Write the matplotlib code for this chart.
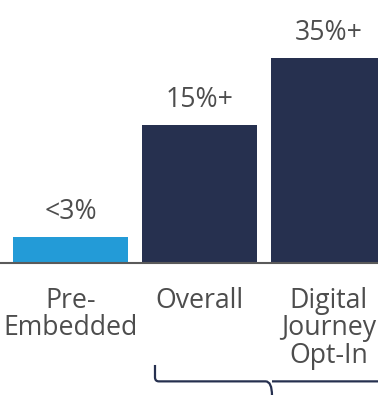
import matplotlib
matplotlib.use('Agg')
import matplotlib.pyplot as plt
from matplotlib.path import Path
from matplotlib.patches import PathPatch

# data
categories = ['Pre-\nEmbedded', 'Overall', 'Digital\nJourney\nOpt-In']
heights = [2.5, 13.5, 20.0]
value_labels = ['<3%', '15%+', '35%+']
colors = ['#239bd7', '#26304f', '#26304f']

plt.rcParams['font.family'] = ['Open Sans', 'DejaVu Sans']
text_color = '#4d4d4d'

fig = plt.figure(figsize=(3.78, 3.95), dpi=100)
ax = fig.add_axes([0, 0, 1, 1])

x = list(range(len(categories)))
ax.bar(x, heights, width=0.891, color=colors, zorder=2)
ax.axhline(0, color='#5a5a5a', lw=1.5, zorder=3)

for xi, h, lab in zip(x, heights, value_labels):
    ax.annotate(lab, (xi, h), xytext=(0, 8), textcoords='offset points',
                ha='center', va='bottom', fontsize=19.2, color=text_color)

for xi, cat in zip(x, categories):
    ax.annotate(cat, (xi, 0), xytext=(0, -17), textcoords='offset points',
                ha='center', va='top', fontsize=19.2, color=text_color,
                linespacing=0.99)

# bracket under the two right bars
xl, xc, xr = 0.655, 1.562, 2.469
yt, yh, yb = -9.95, -11.55, -12.95
r = 0.03
verts = [(xl, yt), (xl, yh + 0.4), (xl, yh), (xl + r, yh),
         (xc - 0.05, yh), (xc, yh), (xc, yb), (xc, yh), (xc + 0.05, yh),
         (xr - r, yh), (xr, yh), (xr, yh + 0.4), (xr, yt)]
codes = [Path.MOVETO, Path.LINETO, Path.CURVE3, Path.CURVE3,
         Path.LINETO, Path.CURVE3, Path.CURVE3, Path.MOVETO, Path.CURVE3,
         Path.LINETO, Path.CURVE3, Path.CURVE3, Path.LINETO]
ax.add_patch(PathPatch(Path(verts, codes), fill=False, edgecolor='#26304f',
                       lw=1.6, clip_on=False))

ax.set_xlim(-0.5465, 2.3837)
ax.set_ylim(-12.88, 25.66)
ax.axis('off')

fig.savefig('out.png', dpi=100)
